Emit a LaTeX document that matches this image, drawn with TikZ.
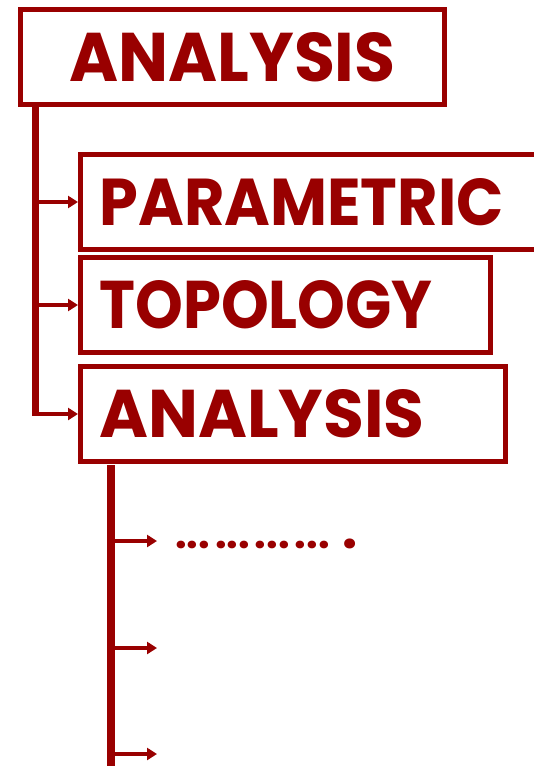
\documentclass[tikz,border=0pt]{standalone}
\usepackage{fontspec}
\setmainfont{Poppins}
\usetikzlibrary{arrows.meta,calc}
\definecolor{dred}{RGB}{153,0,0}
\tikzset{
  box/.style={draw=dred, line width=5pt, rectangle, inner sep=0pt, minimum height=95pt},
  lbox/.style={box, align=left, inner xsep=19pt},
  trunk/.style={draw=dred, line width=7pt, line cap=butt},
  trunkb/.style={draw=dred, line width=8pt, line cap=butt},
  branch/.style={draw=dred, line width=4pt, -{Triangle[length=10pt,width=12pt]}},
  word/.style={text=dred, font=\bfseries}
}
\begin{document}
\begin{tikzpicture}[x=1pt,y=-1pt]
\clip (0,0) rectangle (534,766);
\fill[white] (0,0) rectangle (534,766);
% top box
\node[box, minimum width=424pt, word] (top) at (232.5,57) {\resizebox{326pt}{49pt}{ANALYSIS}};
% sub boxes
\node[lbox, minimum width=480pt, text width=442pt, word] (par) at (320.5,202) {\resizebox{404pt}{47pt}{PARAMETRIC}};
\node[lbox, minimum width=410pt, text width=372pt, word] (top2) at (285.5,305) {\resizebox{333pt}{48pt}{TOPOLOGY}};
\node[lbox, minimum width=425pt, text width=387pt, word] (ana) at (293,414) {\resizebox{325pt}{48pt}{ANALYSIS}};
% first trunk
\coordinate (j1) at (35.5,107);
\draw[trunk] (j1) -- (j1 |- ana.west);
\draw[branch] (j1 |- par.west) -- (par.west);
\draw[branch] (j1 |- top2.west) -- (top2.west);
\draw[branch] ([xshift=-3.5pt]j1 |- ana.west) -- (ana.west);
% second trunk
\coordinate (j2) at (111,465);
\coordinate (jend) at (111,770);
\draw[trunkb] (j2) -- (jend);
\coordinate (e1) at (157,541);
\coordinate (e2) at (157,648);
\coordinate (e3) at (157,754);
\draw[branch] (j2 |- e1) -- (e1);
\draw[branch] (j2 |- e2) -- (e2);
\draw[branch] (j2 |- e3) -- (e3);
% dots
\node[word, anchor=base west, inner sep=0pt] (dots) at (175,548) {\resizebox{182pt}{!}{...\kern1.2pt...\kern1.2pt...\kern1.2pt...\kern3pt{\fontsize{13pt}{13pt}\selectfont.}}};
\end{tikzpicture}
\end{document}
